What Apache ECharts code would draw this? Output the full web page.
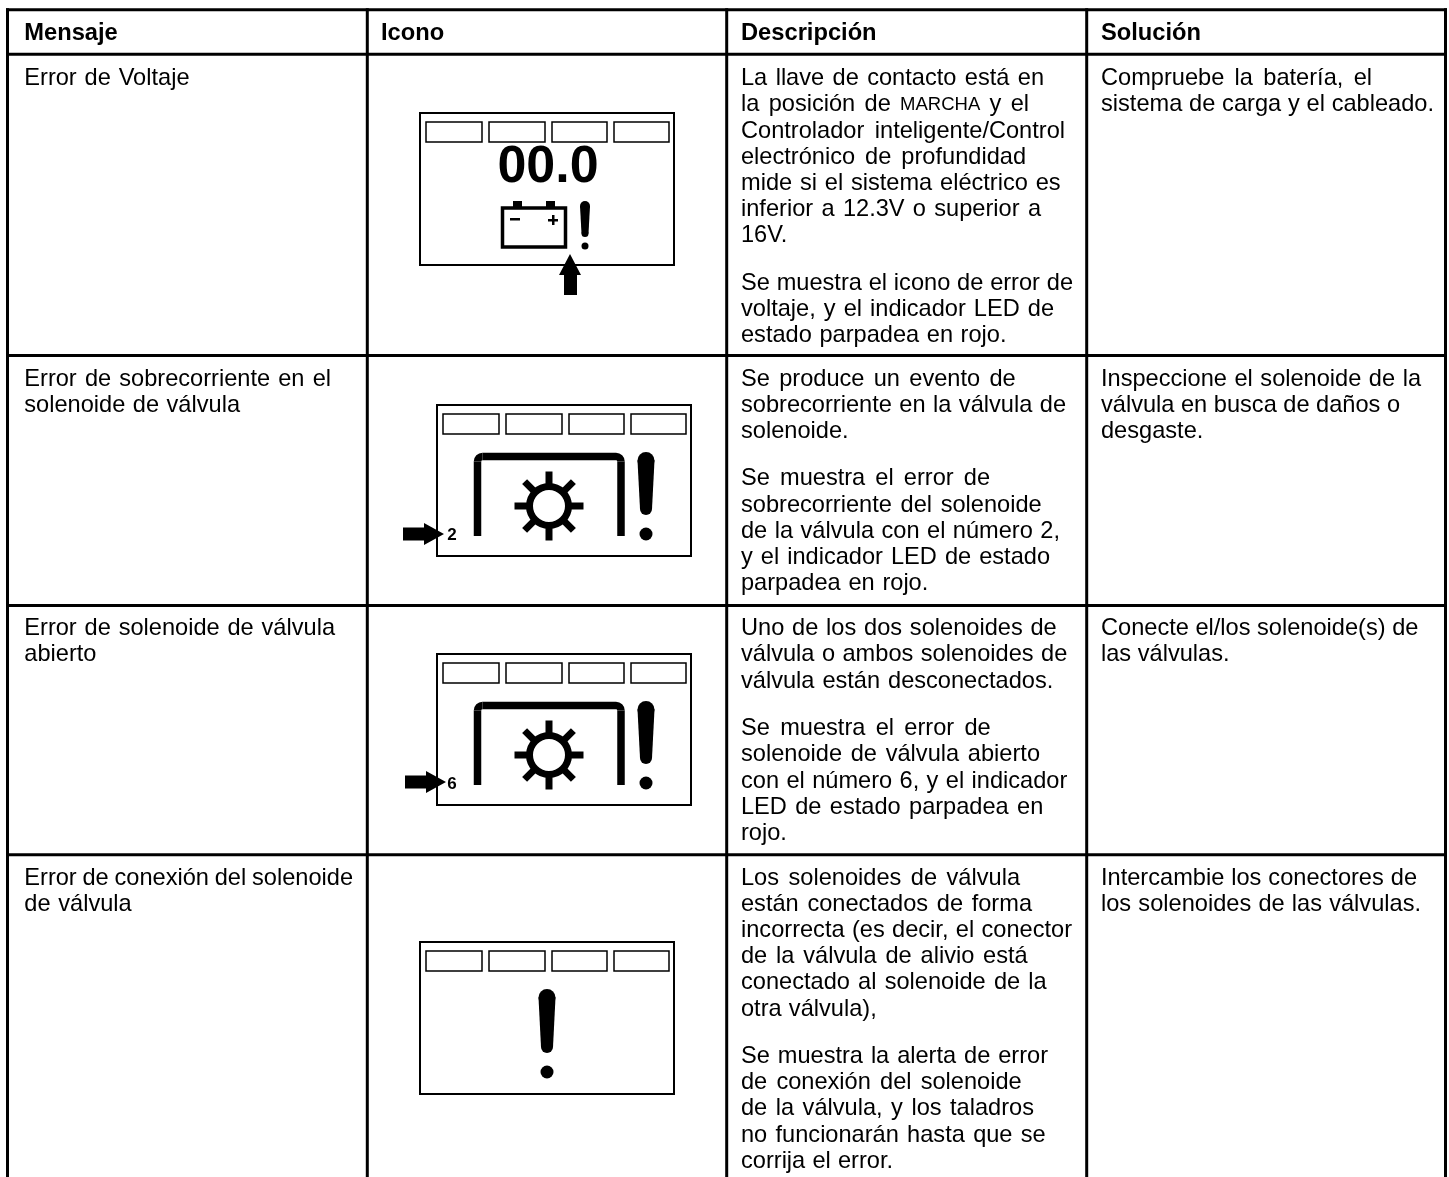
<!DOCTYPE html>
<html>
<head>
<meta charset="utf-8">
<style>html,body{margin:0;padding:0;background:#fff}#main{width:1449px;height:1177px}</style>
<script src="https://cdn.jsdelivr.net/npm/echarts@6/dist/echarts.min.js"></script>
</head>
<body>
<div id="main"></div>
<script>
var headers = ['Mensaje', 'Icono', 'Descripción', 'Solución'];
var messages = [
  ['Error de Voltaje'],
  ['Error de sobrecorriente en el', 'solenoide de válvula'],
  ['Error de solenoide de válvula', 'abierto'],
  ['Error de conexión del solenoide', 'de válvula']
];
var descriptions = [
  ['La llave de contacto está en', 'la posición de {sc|MARCHA} y el', 'Controlador inteligente/Control', 'electrónico de profundidad', 'mide si el sistema eléctrico es', 'inferior a 12.3V o superior a', '16V.', '', 'Se muestra el icono de error de', 'voltaje, y el indicador LED de', 'estado parpadea en rojo.'],
  ['Se produce un evento de', 'sobrecorriente en la válvula de', 'solenoide.', '', 'Se muestra el error de', 'sobrecorriente del solenoide', 'de la válvula con el número 2,', 'y el indicador LED de estado', 'parpadea en rojo.'],
  ['Uno de los dos solenoides de', 'válvula o ambos solenoides de', 'válvula están desconectados.', '', 'Se muestra el error de', 'solenoide de válvula abierto', 'con el número 6, y el indicador', 'LED de estado parpadea en', 'rojo.'],
  ['Los solenoides de válvula', 'están conectados de forma', 'incorrecta (es decir, el conector', 'de la válvula de alivio está', 'conectado al solenoide de la', 'otra válvula),', '', 'Se muestra la alerta de error', 'de conexión del solenoide', 'de la válvula, y los taladros', 'no funcionarán hasta que se', 'corrija el error.']
];
var solutions = [
  ['Compruebe la batería, el', 'sistema de carga y el cableado.'],
  ['Inspeccione el solenoide de la', 'válvula en busca de daños o', 'desgaste.'],
  ['Conecte el/los solenoide(s) de', 'las válvulas.'],
  ['Intercambie los conectores de', 'los solenoides de las válvulas.']
];
var iconNumbers = ['', '2', '6', ''];

// layout of the table, in pixels
var colLines = [7.5, 367.3, 726.7, 1086.7, 1445.5];
var rowLines = [9.8, 54.2, 355.5, 605.5, 854.8];
var textX = [24.3, 381, 741, 1101];
var firstLine = [78.7, 379, 628.7, 878];
var lineH = 26.2;
var paragraphStep = 21.3;
var bodySize = 23.6;
var font = '"Liberation Sans", Arial, sans-serif';

// the source text is justified, so each line ends where the reference ends it (null = natural spacing)
var messageEnds = [[189.5], [331, 240], [335, 96], [353, 131.7]];
var descriptionEnds = [
  [1044, 1029, 1065, 1026, 1060.6, 1041, null, null, 1073, 1054, 1006.5],
  [1015.7, 1066, null, null, 990, 1041.7, 1060, 1050, 928.3],
  [1056.7, 1067.3, 1053.3, null, 990.7, 1040, 1067.3, 1043.3, null],
  [1020, 1032, 1072, 1027.7, 1046.7, 876.7, null, 1048, 1021.7, 1034, 1045.7, 893]
];
var solutionEnds = [[1372, 1434], [1421, null, null], [null, null], [1417, 1421]];

var measure = document.createElement('canvas').getContext('2d');
function widthOf(s, f) {
  measure.font = f;
  return measure.measureText(s).width;
}
function label(x, y, s, f) {
  return {type: 'text', style: {x: x, y: y, text: s, fill: '#000', verticalAlign: 'middle', align: 'left', font: f}};
}
function textLine(x, y, s, end) {
  var plain = 'normal ' + bodySize + 'px ' + font;
  var small = 'normal 18.5px ' + font;
  var words = s.split(' ').map(function (w) {
    var sc = w.indexOf('{sc|') === 0;
    var t = sc ? w.slice(4, -1) : w;
    var f = sc ? small : plain;
    return {t: t, f: f, w: widthOf(t, f)};
  });
  var gap = widthOf(' ', plain);
  if (end && words.length > 1) {
    var sum = words.reduce(function (a, w) { return a + w.w; }, 0);
    gap = (end - x - sum) / (words.length - 1);
  }
  return words.map(function (w) {
    var el = label(x, y, w.t, w.f);
    x += w.w + gap;
    return el;
  });
}
function rect(x0, y0, x1, y1, lw) {
  return {type: 'rect', shape: {x: x0, y: y0, width: x1 - x0, height: y1 - y0}, style: {fill: '#fff', stroke: '#000', lineWidth: lw}};
}
function box(x, y, w, h) {
  return {type: 'rect', shape: {x: x, y: y, width: w, height: h}, style: {fill: '#000'}};
}
function solid(points) {
  return {type: 'polygon', shape: {points: points}, style: {fill: '#000'}};
}
function dot(cx, cy, r) {
  return {type: 'circle', shape: {cx: cx, cy: cy, r: r}, style: {fill: '#000'}};
}
function bang(cx, top, bottom, dotY, topW, botW, r) {
  var a = topW / 2, b = botW / 2;
  return [
    dot(cx, top + a, a),
    solid([[cx - a, top + a], [cx + a, top + a], [cx + b, bottom - b], [cx - b, bottom - b]]),
    dot(cx, bottom - b, b),
    dot(cx, dotY, r)
  ];
}
function screen(x0, y0, x1, y1) {
  var out = [rect(x0, y0, x1, y1, 2)];
  var w = [6, 62, 69, 125, 132, 187, 194, 249];
  for (var i = 0; i < 8; i += 2) out.push(rect(x0 + w[i], y0 + 9, x0 + w[i + 1], y0 + 29, 1.5));
  return out;
}
function icon1() {
  var out = screen(420, 113, 674, 265);
  out.push({type: 'text', style: {x: 548, y: 168, text: '00.0', fill: '#000', align: 'center', verticalAlign: 'middle', font: 'bold 52px ' + font}});
  out.push({type: 'rect', shape: {x: 502.5, y: 208, width: 63, height: 39}, style: {fill: '#fff', stroke: '#000', lineWidth: 3.5}});
  out.push(box(513, 201, 9, 6), box(546, 201, 9, 6), box(510, 218, 10, 2.5), box(548, 219, 10, 2.5), box(552, 215, 2.5, 10));
  out = out.concat(bang(585, 201, 237, 246, 10, 7, 3.5));
  out.push(solid([[570, 254], [581, 275], [577, 275], [577, 295], [564, 295], [564, 275], [559, 275]]));
  return out;
}
function gaugeIcon(x0, y0, n, ax, ay) {
  var out = screen(x0, y0, x0 + 254, y0 + 151);
  var lx = x0 + 40.5, rx = x0 + 184, ty = y0 + 51.5, by = y0 + 131, rad = 5;
  var st = {stroke: '#000', lineWidth: 7.5, fill: 'none'};
  out.push({type: 'line', shape: {x1: lx, y1: by, x2: lx, y2: ty + rad}, style: st});
  out.push({type: 'line', shape: {x1: rx, y1: by, x2: rx, y2: ty + rad}, style: st});
  out.push({type: 'line', shape: {x1: lx + rad, y1: ty, x2: rx - rad, y2: ty}, style: st});
  out.push({type: 'arc', shape: {cx: lx + rad, cy: ty + rad, r: rad, startAngle: Math.PI, endAngle: Math.PI * 1.5}, style: st});
  out.push({type: 'arc', shape: {cx: rx - rad, cy: ty + rad, r: rad, startAngle: Math.PI * 1.5, endAngle: Math.PI * 2}, style: st});
  var cx = x0 + 112, cy = y0 + 101;
  for (var i = 0; i < 8; i++) {
    var a = i * Math.PI / 4;
    out.push({type: 'line', shape: {x1: cx + 20 * Math.cos(a), y1: cy + 20 * Math.sin(a), x2: cx + 34.5 * Math.cos(a), y2: cy + 34.5 * Math.sin(a)}, style: {stroke: '#000', lineWidth: 7}});
  }
  out.push({type: 'circle', shape: {cx: cx, cy: cy, r: 19.5}, style: {fill: '#fff', stroke: '#000', lineWidth: 7}});
  out = out.concat(bang(x0 + 209, y0 + 47, y0 + 110, y0 + 129, 17, 12, 6.5));
  out.push(solid([[ax, ay - 6.5], [ax + 21, ay - 6.5], [ax + 21, ay - 11], [ax + 41, ay], [ax + 21, ay + 11], [ax + 21, ay + 6.5], [ax, ay + 6.5]]));
  out.push({type: 'text', style: {x: x0 + 15, y: y0 + 130, text: n, fill: '#000', align: 'center', verticalAlign: 'middle', font: 'bold 17px ' + font}});
  return out;
}
function icon4() {
  var out = screen(420, 942, 674, 1094);
  return out.concat(bang(547, 989, 1053, 1072, 17, 12, 6.5));
}

var elements = [];
headers.forEach(function (h, c) {
  elements.push(label(textX[c], 33, h, 'bold 23.7px ' + font));
});
[[messages, messageEnds, 0], [descriptions, descriptionEnds, 2], [solutions, solutionEnds, 3]].forEach(function (col) {
  col[0].forEach(function (lines, r) {
    var y = firstLine[r];
    lines.forEach(function (s, l) {
      if (!s) {
        y += paragraphStep;
        return;
      }
      elements = elements.concat(textLine(textX[col[2]], y, s, col[1][r][l]));
      y += lineH;
    });
  });
});
elements = elements.concat(icon1(), gaugeIcon(437, 405, iconNumbers[1], 403, 534), gaugeIcon(437, 654, iconNumbers[2], 405, 782), icon4());

// table rules sit in the same custom series as the text
var rules = [];
colLines.forEach(function (x) {
  rules.push({type: 'line', shape: {x1: x, y1: rowLines[0] - 1.5, x2: x, y2: 1177}, style: {stroke: '#000', lineWidth: 3}});
});
rowLines.forEach(function (y) {
  rules.push({type: 'line', shape: {x1: colLines[0] - 1.5, y1: y, x2: colLines[4] + 1.5, y2: y}, style: {stroke: '#000', lineWidth: 3}});
});

var chart = echarts.init(document.getElementById('main'), null, {renderer: 'canvas'});
chart.setOption({
  animation: false,
  backgroundColor: '#fff',
  series: [{
    type: 'custom',
    coordinateSystem: 'none',
    silent: true,
    data: [0],
    renderItem: function () {
      return {type: 'group', children: rules.concat(elements)};
    }
  }]
});
</script>
</body>
</html>
